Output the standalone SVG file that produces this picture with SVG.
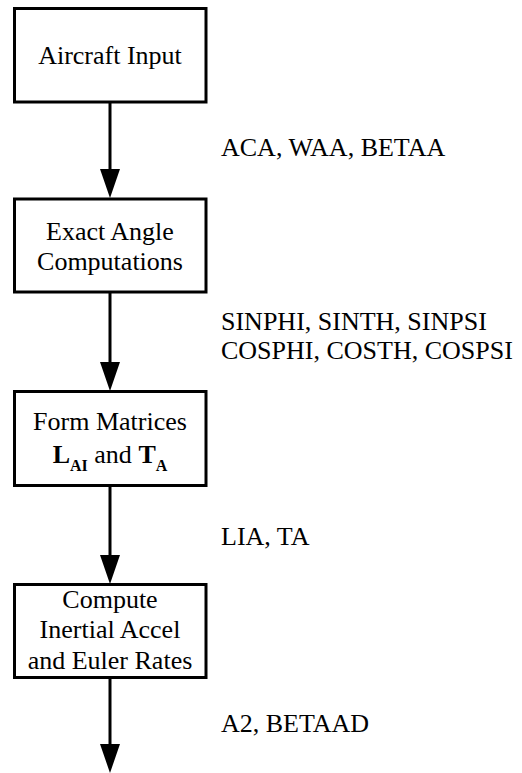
<svg xmlns="http://www.w3.org/2000/svg" width="522" height="773" viewBox="0 0 522 773">
  <style>
    .box { fill: #ffffff; stroke: #000000; stroke-width: 3; }
    .wire { stroke: #000000; stroke-width: 3; fill: none; }
    .head { fill: #000000; stroke: none; }
    text { font-family: "Liberation Serif", "Times New Roman", serif; font-size: 26px; fill: #000000; }
    .ctr { text-anchor: middle; }
    .b { font-weight: bold; }
    .sub { font-size: 16px; font-weight: bold; }
  </style>
  <rect width="522" height="773" fill="#ffffff"/>

  <!-- flow arrows between blocks -->
  <g id="connectors">
    <line class="wire" x1="110" y1="102" x2="110" y2="172"/>
    <polygon class="head" points="100,169 120,169 110,198"/>
    <line class="wire" x1="110" y1="293" x2="110" y2="365"/>
    <polygon class="head" points="100,362 120,362 110,391"/>
    <line class="wire" x1="110" y1="487" x2="110" y2="558"/>
    <polygon class="head" points="100,555 120,555 110,584"/>
    <line class="wire" x1="110" y1="679" x2="110" y2="747"/>
    <polygon class="head" points="100,744 120,744 110,773"/>
  </g>

  <g id="aircraft-input">
    <rect class="box" x="14.5" y="8.5" width="191.5" height="93.5"/>
    <text class="ctr" x="110" y="64">Aircraft Input</text>
  </g>

  <g id="exact-angle">
    <rect class="box" x="14.5" y="199" width="191.5" height="93"/>
    <text class="ctr" x="110" y="240">Exact Angle</text>
    <text class="ctr" x="110" y="270">Computations</text>
  </g>

  <g id="form-matrices">
    <rect class="box" x="14.5" y="391.5" width="191.5" height="94"/>
    <text class="ctr" x="110" y="430">Form Matrices</text>
    <text class="ctr" x="110" y="463"><tspan class="b">L</tspan><tspan class="sub" dy="8">AI</tspan><tspan dy="-8"> and </tspan><tspan class="b">T</tspan><tspan class="sub" dy="8">A</tspan></text>
  </g>

  <g id="compute-accel">
    <rect class="box" x="14.5" y="584.5" width="191.5" height="93"/>
    <text class="ctr" x="110" y="608">Compute</text>
    <text class="ctr" x="110" y="638">Inertial Accel</text>
    <text class="ctr" x="110" y="669">and Euler Rates</text>
  </g>

  <!-- signal labels -->
  <g id="labels">
    <text x="221" y="156">ACA, WAA, BETAA</text>
    <text x="221" y="330"><tspan x="221">SINPHI, SINTH, SINPSI</tspan><tspan x="221" dy="29">COSPHI, COSTH, COSPSI</tspan></text>
    <text x="221" y="545">LIA, TA</text>
    <text x="221" y="732">A2, BETAAD</text>
  </g>
</svg>
